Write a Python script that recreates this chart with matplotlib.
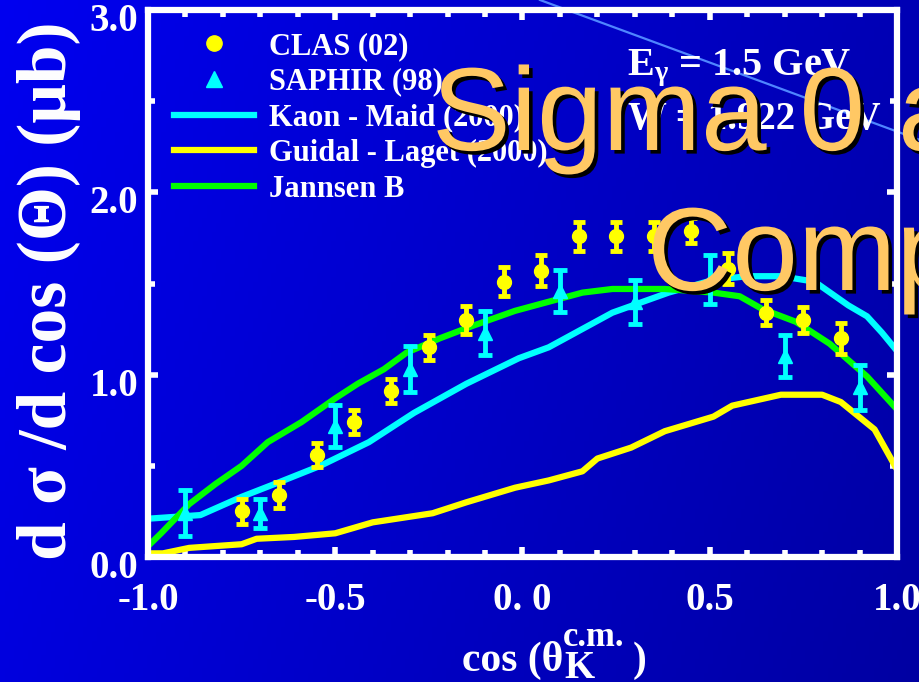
import numpy as np
import matplotlib

matplotlib.use("Agg")
import matplotlib.pyplot as plt
import matplotlib.patheffects as pe
from matplotlib.lines import Line2D
from matplotlib.ticker import FixedLocator, FixedFormatter, MultipleLocator
from matplotlib.transforms import ScaledTranslation

# CLAS (02) data points
clas_x = [-0.75, -0.65, -0.55, -0.45, -0.35, -0.25, -0.15, -0.05, 0.05,
          0.15, 0.25, 0.35, 0.45, 0.55, 0.65, 0.75, 0.85]
clas_y = [0.25, 0.34, 0.56, 0.74, 0.91, 1.15, 1.30, 1.51, 1.57,
          1.76, 1.76, 1.76, 1.79, 1.58, 1.34, 1.30, 1.20]
clas_err = [0.07, 0.07, 0.065, 0.065, 0.065, 0.07, 0.075, 0.08, 0.085,
            0.08, 0.08, 0.08, 0.07, 0.085, 0.07, 0.07, 0.085]

# SAPHIR (98) data points
saphir_x = [-0.9, -0.7, -0.5, -0.3, -0.1, 0.1, 0.3, 0.5, 0.7, 0.9]
saphir_y = [0.24, 0.24, 0.72, 1.03, 1.23, 1.46, 1.40, 1.52, 1.10, 0.93]
saphir_err = [0.125, 0.08, 0.115, 0.125, 0.12, 0.115, 0.12, 0.135, 0.115, 0.125]

# model curves
maid_x = [-1.0, -0.86, -0.75, -0.65, -0.54, -0.41, -0.29, -0.15, -0.01, 0.07,
          0.24, 0.39, 0.51, 0.60, 0.69, 0.78, 0.87, 0.92, 0.96, 1.0]
maid_y = [0.21, 0.23, 0.33, 0.41, 0.50, 0.63, 0.79, 0.95, 1.09, 1.15,
          1.34, 1.45, 1.52, 1.54, 1.54, 1.51, 1.38, 1.32, 1.23, 1.13]

guidal_x = [-1.0, -0.96, -0.89, -0.75, -0.71, -0.61, -0.50, -0.40, -0.24, -0.15,
            -0.02, 0.07, 0.16, 0.20, 0.29, 0.38, 0.51, 0.56, 0.69, 0.80, 0.85, 0.94, 1.0]
guidal_y = [0.02, 0.02, 0.05, 0.07, 0.10, 0.11, 0.13, 0.19, 0.24, 0.30,
            0.38, 0.42, 0.47, 0.54, 0.60, 0.69, 0.77, 0.83, 0.89, 0.89, 0.85, 0.70, 0.48]

jannsen_x = [-1.0, -0.965, -0.89, -0.82, -0.75, -0.68, -0.59, -0.50, -0.44, -0.37,
             -0.31, -0.22, -0.13, -0.02, 0.07, 0.16, 0.24, 0.38, 0.51, 0.58,
             0.64, 0.73, 0.82, 0.87, 0.92, 0.96, 1.0]
jannsen_y = [0.06, 0.13, 0.29, 0.40, 0.50, 0.63, 0.74, 0.87, 0.95, 1.03,
             1.12, 1.20, 1.27, 1.35, 1.40, 1.45, 1.47, 1.47, 1.45, 1.43,
             1.36, 1.29, 1.17, 1.08, 0.99, 0.90, 0.81]

x_ticks = [-1.0, -0.5, 0.0, 0.5, 1.0]
x_ticklabels = ["-1.0", "-0.5", "0. 0", "0.5", "1.0"]
y_ticks = [0.0, 1.0, 2.0, 3.0]
y_ticklabels = ["0.0", "1.0", "2.0", "3.0"]

YELLOW = "#ffff00"
CYAN = "#00ffff"
GREEN = "#00ff00"
ORANGE = "#ffc864"

plt.rcParams["font.family"] = ["Liberation Serif", "DejaVu Serif"]
plt.rcParams["font.weight"] = "bold"
plt.rcParams["mathtext.fontset"] = "custom"
plt.rcParams["mathtext.rm"] = "Liberation Serif:bold"
plt.rcParams["mathtext.it"] = "Liberation Serif:bold"
plt.rcParams["mathtext.bf"] = "Liberation Serif:bold"

W, H = 920, 682
fig = plt.figure(figsize=(W / 100, H / 100), dpi=100)

# slide background: blue gradient + thin decorative stroke
bg = fig.add_axes([0, 0, 1, 1])
gx, gy = np.meshgrid(np.linspace(0, 1, 200), np.linspace(0, 1, 150))
blue = (240 - 60 * gx - 18 * gy) / 255.0
img = np.dstack([np.zeros_like(blue), np.zeros_like(blue), blue])
bg.imshow(img, extent=[0, 1, 0, 1], aspect="auto", origin="upper")
bg.plot([540 / W, 1.0], [1.0, 1 - 140 / H], color="#4f86ff", lw=1.6)
bg.set_xlim(0, 1)
bg.set_ylim(0, 1)
bg.axis("off")
bg.set_zorder(-5)

ax = fig.add_axes([148 / W, 1 - 557 / H, (897 - 148) / W, (557 - 10) / H])
ax.patch.set_alpha(0)

lw = 4.5
ax.plot(maid_x, maid_y, color=CYAN, lw=lw, solid_capstyle="butt", zorder=3)
ax.plot(guidal_x, guidal_y, color=YELLOW, lw=lw, solid_capstyle="butt", zorder=3)
ax.plot(jannsen_x, jannsen_y, color=GREEN, lw=lw, solid_capstyle="butt", zorder=3)

ax.errorbar(saphir_x, saphir_y, yerr=saphir_err, fmt="^", color=CYAN, ms=10,
            elinewidth=3.5, capsize=5, capthick=3.5, zorder=4)
ax.errorbar(clas_x, clas_y, yerr=clas_err, fmt="o", color=YELLOW, ms=10,
            elinewidth=3.5, capsize=4, capthick=3.5, zorder=5)

ax.set_xlim(-1.0, 1.0)
ax.set_ylim(0.0, 3.0)

for s in ax.spines.values():
    s.set_color("white")
    s.set_linewidth(4.5)
    s.set_zorder(6)

ax.xaxis.set_major_locator(FixedLocator(x_ticks))
ax.xaxis.set_major_formatter(FixedFormatter(x_ticklabels))
ax.xaxis.set_minor_locator(MultipleLocator(0.1))
ax.yaxis.set_major_locator(FixedLocator(y_ticks))
ax.yaxis.set_major_formatter(FixedFormatter(y_ticklabels))
ax.yaxis.set_minor_locator(MultipleLocator(0.5))
ax.tick_params(which="both", direction="in", color="white", top=True, right=True,
               labelcolor="white", labelsize=28)
ax.tick_params(which="major", length=7.5, width=4)
ax.tick_params(which="minor", length=5, width=4)
ax.tick_params(axis="x", pad=18)
ax.tick_params(axis="y", pad=7)

# y tick labels sit a little below their ticks on the slide
shift = ScaledTranslation(0, -7 / 100, fig.dpi_scale_trans)
for lab in ax.get_yticklabels():
    lab.set_transform(lab.get_transform() + shift)

handles = [
    Line2D([], [], color=YELLOW, marker="o", ls="none", ms=11),
    Line2D([], [], color=CYAN, marker="^", ls="none", ms=12),
    Line2D([], [], color=CYAN, lw=4.5),
    Line2D([], [], color=YELLOW, lw=4.5),
    Line2D([], [], color=GREEN, lw=4.5),
]
labels = ["CLAS (02)", "SAPHIR (98)", "Kaon - Maid (2000)",
          "Guidal - Laget (2000)", "Jannsen B"]
leg = ax.legend(handles, labels, loc="upper left", bbox_to_anchor=(0.035, 0.96),
                frameon=False, fontsize=22, handlelength=2.6, handletextpad=0.5,
                labelspacing=0.22, borderaxespad=0, borderpad=0, labelcolor="white")
leg.set_zorder(7)

# beam energy annotation
fig.text(627 / W, 1 - 75 / H, r"E$_{\gamma}$ = 1.5 GeV", color="white",
         fontsize=29, va="baseline", ha="left")
fig.text(628 / W, 1 - 129 / H, "W = 1.922 GeV", color="white",
         fontsize=28, va="baseline", ha="left")

# axis titles
fig.text(66 / W, 1 - 291 / H, "d σ /d cos (Θ) (μb)", color="white", fontsize=50,
         rotation=90, rotation_mode="anchor", ha="center", va="baseline")
fig.text(462 / W, 1 - 671 / H, "cos (θ", color="white", fontsize=30,
         va="baseline", ha="left")
fig.text(564 / W, 1 - 678 / H, "K", color="white", fontsize=28,
         va="baseline", ha="left")
fig.text(563 / W, 1 - 646 / H, "c.m.", color="white", fontsize=25,
         va="baseline", ha="left")
fig.text(633 / W, 1 - 671 / H, ")", color="white", fontsize=30,
         va="baseline", ha="left")

# slide title overlay
shadow = [pe.SimplePatchShadow(offset=(2.6, -2.6), shadow_rgbFace="black", alpha=1.0),
          pe.Normal()]
fig.text(432 / W, 1 - 150 / H, "Sigma 0 and", color=ORANGE, fontsize=85,
         family="Liberation Sans", weight="normal", va="baseline", ha="left",
         path_effects=shadow, zorder=10)
fig.text(647 / W, 1 - 290 / H, "Comparison", color=ORANGE, fontsize=85,
         family="Liberation Sans", weight="normal", va="baseline", ha="left",
         path_effects=shadow, zorder=10)

fig.savefig("out.png", dpi=100)
